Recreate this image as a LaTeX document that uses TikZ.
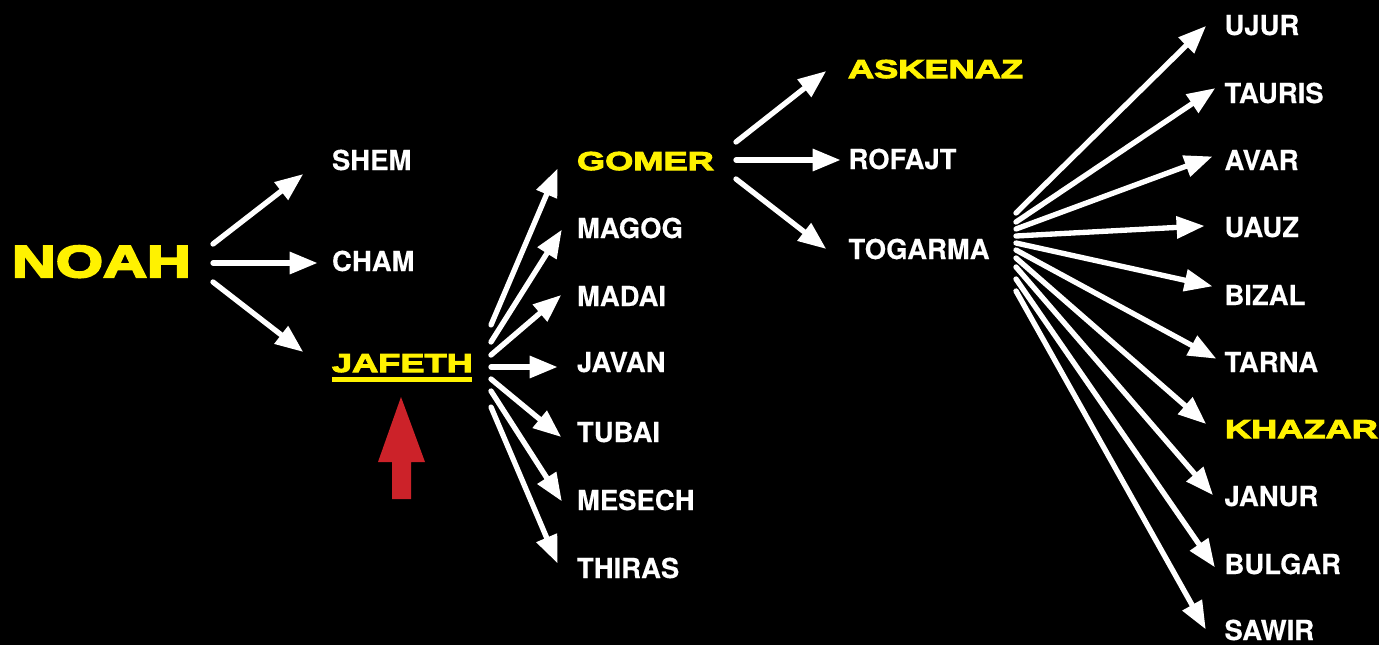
\documentclass[tikz,border=0pt]{standalone}
\usepackage{fontspec}
\setmainfont{Liberation Sans}
\newfontfamily\plainf[UprightFont={* Bold},FakeBold=0.3]{TeX Gyre Heros}
\newfontfamily\heavyf[UprightFont={* Bold},FakeStretch=1.36,FakeBold=5]{Liberation Sans}
\newfontfamily\heavys[UprightFont={* Bold},FakeStretch=1.4,FakeBold=4]{Liberation Sans}
\usetikzlibrary{arrows.meta}
\definecolor{noahyellow}{HTML}{FFF200}
\definecolor{markred}{HTML}{CC2229}
\tikzset{
  x=0.75pt,y=-0.75pt,
  lab/.style={anchor=base west,inner sep=0pt,outer sep=0pt,text=white,font=\plainf\fontsize{20.6pt}{24pt}\selectfont},
  hilite/.style={anchor=base west,inner sep=0pt,outer sep=0pt,text=noahyellow,font=\heavys\fontsize{19.4pt}{24pt}\selectfont},
  title/.style={anchor=base west,inner sep=0pt,outer sep=0pt,text=noahyellow,font=\heavyf\fontsize{33.5pt}{40pt}\selectfont},
  conn/.style={draw=white,line width=4pt,line cap=round,shorten >=-1.2pt,-{Triangle[length=21pt,width=16pt,fill=white]}},
}
\begin{document}
\begin{tikzpicture}
\useasboundingbox (0,0) rectangle (1379,644);
\fill[black] (-5,-5) rectangle (1384,649);
% labels
\node[title] (noah) at (12,277) {NOAH};
\node[lab] (shem) at (332,170) {SHEM};
\node[lab] (cham) at (332,271) {CHAM};
\node[hilite] (jafeth) at (332,372) {JAFETH};
\node[hilite] (gomer) at (577,170) {GOMER};
\node[lab] (magog) at (577,238) {MAGOG};
\node[lab] (madai) at (577,306) {MADAI};
\node[lab] (javan) at (577,372) {JAVAN};
\node[lab] (tubai) at (577,442) {TUBAI};
\node[lab] (mesech) at (577,510) {MESECH};
\node[lab] (thiras) at (577,578) {THIRAS};
\node[hilite] (askenaz) at (848,78) {ASKENAZ};
\node[lab] (rofajt) at (848.5,169) {ROFAJT};
\node[lab] (togarma) at (848.5,259) {TOGARMA};
\node[lab] (ujur) at (1224.5,35) {UJUR};
\node[lab] (tauris) at (1224.5,103) {TAURIS};
\node[lab] (avar) at (1224.5,170) {AVAR};
\node[lab] (uauz) at (1224.5,237) {UAUZ};
\node[lab] (bizal) at (1224.5,305) {BIZAL};
\node[lab] (tarna) at (1224.5,372) {TARNA};
\node[hilite] (khazar) at (1225,438) {KHAZAR};
\node[lab] (janur) at (1224.5,506) {JANUR};
\node[lab] (bulgar) at (1224.5,574) {BULGAR};
\node[lab] (sawir) at (1224.5,640) {SAWIR};
% underline and red marker
\fill[noahyellow] (332,377) rectangle (472,382);
\fill[markred] (401,397) -- (425,462) -- (411,462) -- (411,499) -- (392,499) -- (392,462) -- (378,462) -- cycle;
% connector ends
\foreach \n/\sx/\sy/\ex/\ey in {
 shem/213/244/302/175, cham/213/263/316/263, jaf/213/282/302/351,
 gom/491/325/557/170, mag/491/342/561/231, mad/491/355/560/296, jav/491/367/556/367,
 tub/491/379/560/436, mes/491/391/561/500, thi/491/407/557/562,
 ask/736/142/825/72, rof/736/160/839/160, tog/736/179/825/248,
 uju/1016/213/1205/27, tau/1016/222/1214/89, ava/1016/229/1211/157, uau/1016/236/1203/226,
 biz/1016/243/1211/286, tar/1016/250/1215/358, kha/1016/258/1205/423, jan/1016/267/1212/494,
 bul/1016/279/1214/566, saw/1016/291/1205/628}{
  \coordinate (s\n) at (\sx,\sy);
  \coordinate (e\n) at (\ex,\ey);
  \draw[conn] (s\n) -- (e\n);
}
\end{tikzpicture}
\end{document}
